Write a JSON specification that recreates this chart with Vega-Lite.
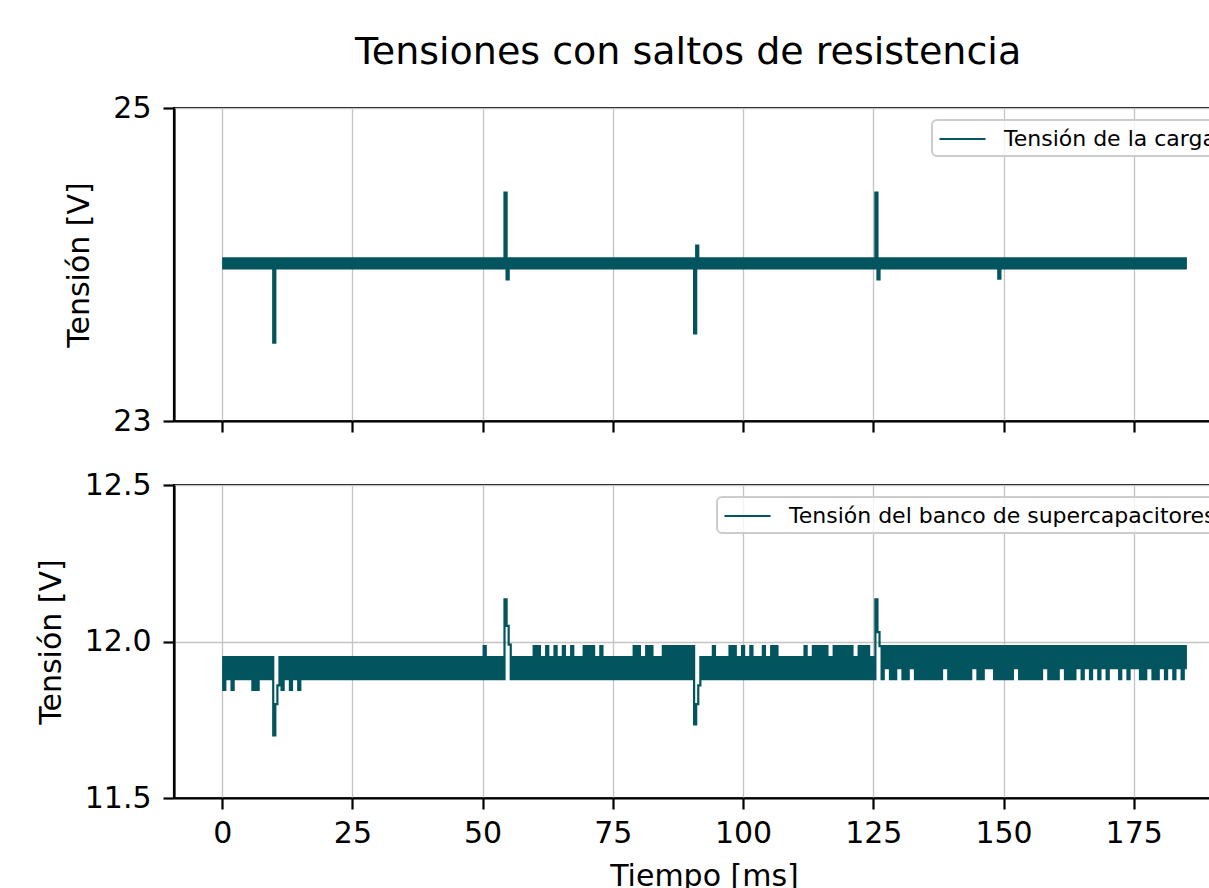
{
"$schema": "https://vega.github.io/schema/vega-lite/v6.json",
"background": "white",
"autosize": {"type": "pad"},
"padding": {"left": 35, "top": 33, "right": 0, "bottom": 0},
"title": {"text": "Tensiones con saltos de resistencia", "font": "DejaVu Sans", "fontSize": 38, "fontWeight": "normal", "color": "black", "anchor": "middle", "dx": 53, "offset": 20},
"spacing": 64,
"bounds": "flush",
"resolve": {"scale": {"color": "independent"}, "legend": {"color": "independent"}},
"config": {
  "font": "DejaVu Sans",
  "view": {"stroke": "black", "strokeWidth": 2.2},
  "axis": {"domainColor": "black", "domainWidth": 2.2, "tickColor": "black", "tickWidth": 2.2, "tickSize": 11, "labelFont": "DejaVu Sans", "labelFontSize": 30, "labelColor": "black", "labelPadding": 12, "titleFont": "DejaVu Sans", "titleFontSize": 30, "titleFontWeight": "normal", "titleColor": "black", "gridColor": "#c4c4c4", "gridWidth": 1.3},
  "legend": {"orient": "top-right", "offset": 12, "padding": 6, "strokeColor": "#cccccc", "strokeWidth": 2, "fillColor": "rgba(255,255,255,0.8)", "cornerRadius": 5, "symbolType": "M-1,0H3", "symbolSize": 529, "symbolStrokeWidth": 2.2, "labelFontSize": 22, "labelFont": "DejaVu Sans", "labelColor": "black", "labelOffset": 40, "labelLimit": 1000}
},
"datasets": {"d": [
{"t":0,"a":24.04,"b":11.95},{"t":0.4,"a":23.975,"b":11.845},{"t":0.8,"a":24.04,"b":11.95},{"t":1.2,"a":23.975,"b":11.88},{"t":1.6,"a":24.04,"b":11.95},{"t":2,"a":23.975,"b":11.845},{"t":2.4,"a":24.04,"b":11.95},{"t":2.8,"a":23.975,"b":11.88},{"t":3.2,"a":24.04,"b":11.95},{"t":3.6,"a":23.975,"b":11.88},
{"t":4,"a":24.04,"b":11.95},{"t":4.4,"a":23.975,"b":11.88},{"t":4.8,"a":24.04,"b":11.95},{"t":5.2,"a":23.975,"b":11.88},{"t":5.6,"a":24.04,"b":11.95},{"t":6,"a":23.975,"b":11.845},{"t":6.4,"a":24.04,"b":11.95},{"t":6.8,"a":23.975,"b":11.845},{"t":7.2,"a":24.04,"b":11.95},{"t":7.6,"a":23.975,"b":11.88},
{"t":8,"a":24.04,"b":11.95},{"t":8.4,"a":23.975,"b":11.88},{"t":8.8,"a":24.04,"b":11.95},{"t":9.2,"a":23.975,"b":11.88},{"t":9.6,"a":24.04,"b":11.95},{"t":10,"a":23.5,"b":11.7},{"t":10.4,"a":24.04,"b":11.8},{"t":10.8,"a":23.975,"b":11.86},{"t":11.2,"a":24.04,"b":11.95},{"t":11.6,"a":23.975,"b":11.845},
{"t":12,"a":24.04,"b":11.95},{"t":12.4,"a":23.975,"b":11.88},{"t":12.8,"a":24.04,"b":11.95},{"t":13.2,"a":23.975,"b":11.845},{"t":13.6,"a":24.04,"b":11.95},{"t":14,"a":23.975,"b":11.88},{"t":14.4,"a":24.04,"b":11.95},{"t":14.8,"a":23.975,"b":11.845},{"t":15.2,"a":24.04,"b":11.95},{"t":15.6,"a":23.975,"b":11.88},
{"t":16,"a":24.04,"b":11.95},{"t":16.4,"a":23.975,"b":11.88},{"t":16.8,"a":24.04,"b":11.95},{"t":17.2,"a":23.975,"b":11.88},{"t":17.6,"a":24.04,"b":11.95},{"t":18,"a":23.975,"b":11.88},{"t":18.4,"a":24.04,"b":11.95},{"t":18.8,"a":23.975,"b":11.88},{"t":19.2,"a":24.04,"b":11.95},{"t":19.6,"a":23.975,"b":11.88},
{"t":20,"a":24.04,"b":11.95},{"t":20.4,"a":23.975,"b":11.88},{"t":20.8,"a":24.04,"b":11.95},{"t":21.2,"a":23.975,"b":11.88},{"t":21.6,"a":24.04,"b":11.95},{"t":22,"a":23.975,"b":11.88},{"t":22.4,"a":24.04,"b":11.95},{"t":22.8,"a":23.975,"b":11.88},{"t":23.2,"a":24.04,"b":11.95},{"t":23.6,"a":23.975,"b":11.88},
{"t":24,"a":24.04,"b":11.95},{"t":24.4,"a":23.975,"b":11.88},{"t":24.8,"a":24.04,"b":11.95},{"t":25.2,"a":23.975,"b":11.88},{"t":25.6,"a":24.04,"b":11.95},{"t":26,"a":23.975,"b":11.88},{"t":26.4,"a":24.04,"b":11.95},{"t":26.8,"a":23.975,"b":11.88},{"t":27.2,"a":24.04,"b":11.95},{"t":27.6,"a":23.975,"b":11.88},
{"t":28,"a":24.04,"b":11.95},{"t":28.4,"a":23.975,"b":11.88},{"t":28.8,"a":24.04,"b":11.95},{"t":29.2,"a":23.975,"b":11.88},{"t":29.6,"a":24.04,"b":11.95},{"t":30,"a":23.975,"b":11.88},{"t":30.4,"a":24.04,"b":11.95},{"t":30.8,"a":23.975,"b":11.88},{"t":31.2,"a":24.04,"b":11.95},{"t":31.6,"a":23.975,"b":11.88},
{"t":32,"a":24.04,"b":11.95},{"t":32.4,"a":23.975,"b":11.88},{"t":32.8,"a":24.04,"b":11.95},{"t":33.2,"a":23.975,"b":11.88},{"t":33.6,"a":24.04,"b":11.95},{"t":34,"a":23.975,"b":11.88},{"t":34.4,"a":24.04,"b":11.95},{"t":34.8,"a":23.975,"b":11.88},{"t":35.2,"a":24.04,"b":11.95},{"t":35.6,"a":23.975,"b":11.88},
{"t":36,"a":24.04,"b":11.95},{"t":36.4,"a":23.975,"b":11.88},{"t":36.8,"a":24.04,"b":11.95},{"t":37.2,"a":23.975,"b":11.88},{"t":37.6,"a":24.04,"b":11.95},{"t":38,"a":23.975,"b":11.88},{"t":38.4,"a":24.04,"b":11.95},{"t":38.8,"a":23.975,"b":11.88},{"t":39.2,"a":24.04,"b":11.95},{"t":39.6,"a":23.975,"b":11.88},
{"t":40,"a":24.04,"b":11.95},{"t":40.4,"a":23.975,"b":11.88},{"t":40.8,"a":24.04,"b":11.95},{"t":41.2,"a":23.975,"b":11.88},{"t":41.6,"a":24.04,"b":11.95},{"t":42,"a":23.975,"b":11.88},{"t":42.4,"a":24.04,"b":11.95},{"t":42.8,"a":23.975,"b":11.88},{"t":43.2,"a":24.04,"b":11.95},{"t":43.6,"a":23.975,"b":11.88},
{"t":44,"a":24.04,"b":11.95},{"t":44.4,"a":23.975,"b":11.88},{"t":44.8,"a":24.04,"b":11.95},{"t":45.2,"a":23.975,"b":11.88},{"t":45.6,"a":24.04,"b":11.95},{"t":46,"a":23.975,"b":11.88},{"t":46.4,"a":24.04,"b":11.95},{"t":46.8,"a":23.975,"b":11.88},{"t":47.2,"a":24.04,"b":11.95},{"t":47.6,"a":23.975,"b":11.88},
{"t":48,"a":24.04,"b":11.95},{"t":48.4,"a":23.975,"b":11.88},{"t":48.8,"a":24.04,"b":11.95},{"t":49.2,"a":23.975,"b":11.88},{"t":49.6,"a":24.04,"b":11.95},{"t":50,"a":23.975,"b":11.88},{"t":50.4,"a":24.04,"b":11.985},{"t":50.8,"a":23.975,"b":11.88},{"t":51.2,"a":24.04,"b":11.95},{"t":51.6,"a":23.975,"b":11.88},
{"t":52,"a":24.04,"b":11.95},{"t":52.4,"a":23.975,"b":11.88},{"t":52.8,"a":24.04,"b":11.95},{"t":53.2,"a":23.975,"b":11.88},{"t":53.6,"a":24.04,"b":11.95},{"t":54,"a":23.975,"b":11.88},{"t":54.4,"a":24.46,"b":12.135},{"t":54.8,"a":23.905,"b":12.05},{"t":55.2,"a":24.04,"b":11.99},{"t":55.6,"a":23.975,"b":11.88},
{"t":56,"a":24.04,"b":11.95},{"t":56.4,"a":23.975,"b":11.88},{"t":56.8,"a":24.04,"b":11.95},{"t":57.2,"a":23.975,"b":11.88},{"t":57.6,"a":24.04,"b":11.95},{"t":58,"a":23.975,"b":11.88},{"t":58.4,"a":24.04,"b":11.95},{"t":58.8,"a":23.975,"b":11.88},{"t":59.2,"a":24.04,"b":11.95},{"t":59.6,"a":23.975,"b":11.88},
{"t":60,"a":24.04,"b":11.985},{"t":60.4,"a":23.975,"b":11.88},{"t":60.8,"a":24.04,"b":11.985},{"t":61.2,"a":23.975,"b":11.88},{"t":61.6,"a":24.04,"b":11.95},{"t":62,"a":23.975,"b":11.88},{"t":62.4,"a":24.04,"b":11.985},{"t":62.8,"a":23.975,"b":11.88},{"t":63.2,"a":24.04,"b":11.95},{"t":63.6,"a":23.975,"b":11.88},
{"t":64,"a":24.04,"b":11.985},{"t":64.4,"a":23.975,"b":11.88},{"t":64.8,"a":24.04,"b":11.95},{"t":65.2,"a":23.975,"b":11.88},{"t":65.6,"a":24.04,"b":11.985},{"t":66,"a":23.975,"b":11.88},{"t":66.4,"a":24.04,"b":11.95},{"t":66.8,"a":23.975,"b":11.88},{"t":67.2,"a":24.04,"b":11.985},{"t":67.6,"a":23.975,"b":11.88},
{"t":68,"a":24.04,"b":11.95},{"t":68.4,"a":23.975,"b":11.88},{"t":68.8,"a":24.04,"b":11.95},{"t":69.2,"a":23.975,"b":11.88},{"t":69.6,"a":24.04,"b":11.985},{"t":70,"a":23.975,"b":11.88},{"t":70.4,"a":24.04,"b":11.985},{"t":70.8,"a":23.975,"b":11.88},{"t":71.2,"a":24.04,"b":11.985},{"t":71.6,"a":23.975,"b":11.88},
{"t":72,"a":24.04,"b":11.95},{"t":72.4,"a":23.975,"b":11.88},{"t":72.8,"a":24.04,"b":11.985},{"t":73.2,"a":23.975,"b":11.88},{"t":73.6,"a":24.04,"b":11.95},{"t":74,"a":23.975,"b":11.88},{"t":74.4,"a":24.04,"b":11.95},{"t":74.8,"a":23.975,"b":11.88},{"t":75.2,"a":24.04,"b":11.95},{"t":75.6,"a":23.975,"b":11.88},
{"t":76,"a":24.04,"b":11.95},{"t":76.4,"a":23.975,"b":11.88},{"t":76.8,"a":24.04,"b":11.95},{"t":77.2,"a":23.975,"b":11.88},{"t":77.6,"a":24.04,"b":11.95},{"t":78,"a":23.975,"b":11.88},{"t":78.4,"a":24.04,"b":11.95},{"t":78.8,"a":23.975,"b":11.88},{"t":79.2,"a":24.04,"b":11.985},{"t":79.6,"a":23.975,"b":11.88},
{"t":80,"a":24.04,"b":11.985},{"t":80.4,"a":23.975,"b":11.88},{"t":80.8,"a":24.04,"b":11.95},{"t":81.2,"a":23.975,"b":11.88},{"t":81.6,"a":24.04,"b":11.985},{"t":82,"a":23.975,"b":11.88},{"t":82.4,"a":24.04,"b":11.985},{"t":82.8,"a":23.975,"b":11.88},{"t":83.2,"a":24.04,"b":11.95},{"t":83.6,"a":23.975,"b":11.88},
{"t":84,"a":24.04,"b":11.95},{"t":84.4,"a":23.975,"b":11.88},{"t":84.8,"a":24.04,"b":11.985},{"t":85.2,"a":23.975,"b":11.88},{"t":85.6,"a":24.04,"b":11.985},{"t":86,"a":23.975,"b":11.88},{"t":86.4,"a":24.04,"b":11.985},{"t":86.8,"a":23.975,"b":11.88},{"t":87.2,"a":24.04,"b":11.985},{"t":87.6,"a":23.975,"b":11.88},
{"t":88,"a":24.04,"b":11.985},{"t":88.4,"a":23.975,"b":11.88},{"t":88.8,"a":24.04,"b":11.985},{"t":89.2,"a":23.975,"b":11.88},{"t":89.6,"a":24.04,"b":11.985},{"t":90,"a":23.975,"b":11.88},{"t":90.4,"a":24.04,"b":11.985},{"t":90.8,"a":23.56,"b":11.735},{"t":91.2,"a":24.12,"b":11.8},{"t":91.6,"a":23.975,"b":11.86},
{"t":92,"a":24.04,"b":11.95},{"t":92.4,"a":23.975,"b":11.88},{"t":92.8,"a":24.04,"b":11.95},{"t":93.2,"a":23.975,"b":11.88},{"t":93.6,"a":24.04,"b":11.95},{"t":94,"a":23.975,"b":11.88},{"t":94.4,"a":24.04,"b":11.985},{"t":94.8,"a":23.975,"b":11.88},{"t":95.2,"a":24.04,"b":11.95},{"t":95.6,"a":23.975,"b":11.88},
{"t":96,"a":24.04,"b":11.95},{"t":96.4,"a":23.975,"b":11.88},{"t":96.8,"a":24.04,"b":11.95},{"t":97.2,"a":23.975,"b":11.88},{"t":97.6,"a":24.04,"b":11.985},{"t":98,"a":23.975,"b":11.88},{"t":98.4,"a":24.04,"b":11.985},{"t":98.8,"a":23.975,"b":11.88},{"t":99.2,"a":24.04,"b":11.95},{"t":99.6,"a":23.975,"b":11.88},
{"t":100,"a":24.04,"b":11.985},{"t":100.4,"a":23.975,"b":11.88},{"t":100.8,"a":24.04,"b":11.95},{"t":101.2,"a":23.975,"b":11.88},{"t":101.6,"a":24.04,"b":11.985},{"t":102,"a":23.975,"b":11.88},{"t":102.4,"a":24.04,"b":11.95},{"t":102.8,"a":23.975,"b":11.88},{"t":103.2,"a":24.04,"b":11.95},{"t":103.6,"a":23.975,"b":11.88},
{"t":104,"a":24.04,"b":11.985},{"t":104.4,"a":23.975,"b":11.88},{"t":104.8,"a":24.04,"b":11.95},{"t":105.2,"a":23.975,"b":11.88},{"t":105.6,"a":24.04,"b":11.985},{"t":106,"a":23.975,"b":11.88},{"t":106.4,"a":24.04,"b":11.985},{"t":106.8,"a":23.975,"b":11.88},{"t":107.2,"a":24.04,"b":11.95},{"t":107.6,"a":23.975,"b":11.88},
{"t":108,"a":24.04,"b":11.95},{"t":108.4,"a":23.975,"b":11.88},{"t":108.8,"a":24.04,"b":11.95},{"t":109.2,"a":23.975,"b":11.88},{"t":109.6,"a":24.04,"b":11.95},{"t":110,"a":23.975,"b":11.88},{"t":110.4,"a":24.04,"b":11.95},{"t":110.8,"a":23.975,"b":11.88},{"t":111.2,"a":24.04,"b":11.95},{"t":111.6,"a":23.975,"b":11.88},
{"t":112,"a":24.04,"b":11.985},{"t":112.4,"a":23.975,"b":11.88},{"t":112.8,"a":24.04,"b":11.95},{"t":113.2,"a":23.975,"b":11.88},{"t":113.6,"a":24.04,"b":11.985},{"t":114,"a":23.975,"b":11.88},{"t":114.4,"a":24.04,"b":11.985},{"t":114.8,"a":23.975,"b":11.88},{"t":115.2,"a":24.04,"b":11.985},{"t":115.6,"a":23.975,"b":11.88},
{"t":116,"a":24.04,"b":11.985},{"t":116.4,"a":23.975,"b":11.88},{"t":116.8,"a":24.04,"b":11.95},{"t":117.2,"a":23.975,"b":11.88},{"t":117.6,"a":24.04,"b":11.985},{"t":118,"a":23.975,"b":11.88},{"t":118.4,"a":24.04,"b":11.985},{"t":118.8,"a":23.975,"b":11.88},{"t":119.2,"a":24.04,"b":11.985},{"t":119.6,"a":23.975,"b":11.88},
{"t":120,"a":24.04,"b":11.985},{"t":120.4,"a":23.975,"b":11.88},{"t":120.8,"a":24.04,"b":11.985},{"t":121.2,"a":23.975,"b":11.88},{"t":121.6,"a":24.04,"b":11.95},{"t":122,"a":23.975,"b":11.88},{"t":122.4,"a":24.04,"b":11.985},{"t":122.8,"a":23.975,"b":11.88},{"t":123.2,"a":24.04,"b":11.985},{"t":123.6,"a":23.975,"b":11.88},
{"t":124,"a":24.04,"b":11.985},{"t":124.4,"a":23.975,"b":11.88},{"t":124.8,"a":24.04,"b":11.95},{"t":125.2,"a":23.975,"b":11.88},{"t":125.6,"a":24.46,"b":12.135},{"t":126,"a":23.905,"b":12.03},{"t":126.4,"a":24.04,"b":11.985},{"t":126.8,"a":23.975,"b":11.88},{"t":127.2,"a":24.04,"b":11.985},{"t":127.6,"a":23.975,"b":11.915},
{"t":128,"a":24.04,"b":11.985},{"t":128.4,"a":23.975,"b":11.88},{"t":128.8,"a":24.04,"b":11.985},{"t":129.2,"a":23.975,"b":11.88},{"t":129.6,"a":24.04,"b":11.985},{"t":130,"a":23.975,"b":11.915},{"t":130.4,"a":24.04,"b":11.985},{"t":130.8,"a":23.975,"b":11.88},{"t":131.2,"a":24.04,"b":11.985},{"t":131.6,"a":23.975,"b":11.88},
{"t":132,"a":24.04,"b":11.985},{"t":132.4,"a":23.975,"b":11.915},{"t":132.8,"a":24.04,"b":11.985},{"t":133.2,"a":23.975,"b":11.88},{"t":133.6,"a":24.04,"b":11.985},{"t":134,"a":23.975,"b":11.88},{"t":134.4,"a":24.04,"b":11.985},{"t":134.8,"a":23.975,"b":11.88},{"t":135.2,"a":24.04,"b":11.985},{"t":135.6,"a":23.975,"b":11.88},
{"t":136,"a":24.04,"b":11.985},{"t":136.4,"a":23.975,"b":11.88},{"t":136.8,"a":24.04,"b":11.985},{"t":137.2,"a":23.975,"b":11.88},{"t":137.6,"a":24.04,"b":11.985},{"t":138,"a":23.975,"b":11.88},{"t":138.4,"a":24.04,"b":11.985},{"t":138.8,"a":23.975,"b":11.915},{"t":139.2,"a":24.04,"b":11.985},{"t":139.6,"a":23.975,"b":11.88},
{"t":140,"a":24.04,"b":11.985},{"t":140.4,"a":23.975,"b":11.88},{"t":140.8,"a":24.04,"b":11.985},{"t":141.2,"a":23.975,"b":11.88},{"t":141.6,"a":24.04,"b":11.985},{"t":142,"a":23.975,"b":11.88},{"t":142.4,"a":24.04,"b":11.985},{"t":142.8,"a":23.975,"b":11.88},{"t":143.2,"a":24.04,"b":11.985},{"t":143.6,"a":23.975,"b":11.88},
{"t":144,"a":24.04,"b":11.985},{"t":144.4,"a":23.975,"b":11.915},{"t":144.8,"a":24.04,"b":11.985},{"t":145.2,"a":23.975,"b":11.88},{"t":145.6,"a":24.04,"b":11.985},{"t":146,"a":23.975,"b":11.88},{"t":146.4,"a":24.04,"b":11.985},{"t":146.8,"a":23.975,"b":11.915},{"t":147.2,"a":24.04,"b":11.985},{"t":147.6,"a":23.975,"b":11.915},
{"t":148,"a":24.04,"b":11.985},{"t":148.4,"a":23.975,"b":11.88},{"t":148.8,"a":24.04,"b":11.985},{"t":149.2,"a":23.91,"b":11.88},{"t":149.6,"a":24.04,"b":11.985},{"t":150,"a":23.975,"b":11.88},{"t":150.4,"a":24.04,"b":11.985},{"t":150.8,"a":23.975,"b":11.88},{"t":151.2,"a":24.04,"b":11.985},{"t":151.6,"a":23.975,"b":11.88},
{"t":152,"a":24.04,"b":11.985},{"t":152.4,"a":23.975,"b":11.915},{"t":152.8,"a":24.04,"b":11.985},{"t":153.2,"a":23.975,"b":11.88},{"t":153.6,"a":24.04,"b":11.985},{"t":154,"a":23.975,"b":11.88},{"t":154.4,"a":24.04,"b":11.985},{"t":154.8,"a":23.975,"b":11.88},{"t":155.2,"a":24.04,"b":11.985},{"t":155.6,"a":23.975,"b":11.88},
{"t":156,"a":24.04,"b":11.985},{"t":156.4,"a":23.975,"b":11.88},{"t":156.8,"a":24.04,"b":11.985},{"t":157.2,"a":23.975,"b":11.88},{"t":157.6,"a":24.04,"b":11.985},{"t":158,"a":23.975,"b":11.915},{"t":158.4,"a":24.04,"b":11.985},{"t":158.8,"a":23.975,"b":11.88},{"t":159.2,"a":24.04,"b":11.985},{"t":159.6,"a":23.975,"b":11.88},
{"t":160,"a":24.04,"b":11.985},{"t":160.4,"a":23.975,"b":11.88},{"t":160.8,"a":24.04,"b":11.985},{"t":161.2,"a":23.975,"b":11.915},{"t":161.6,"a":24.04,"b":11.985},{"t":162,"a":23.975,"b":11.88},{"t":162.4,"a":24.04,"b":11.985},{"t":162.8,"a":23.975,"b":11.88},{"t":163.2,"a":24.04,"b":11.985},{"t":163.6,"a":23.975,"b":11.88},
{"t":164,"a":24.04,"b":11.985},{"t":164.4,"a":23.975,"b":11.915},{"t":164.8,"a":24.04,"b":11.985},{"t":165.2,"a":23.975,"b":11.88},{"t":165.6,"a":24.04,"b":11.985},{"t":166,"a":23.975,"b":11.915},{"t":166.4,"a":24.04,"b":11.985},{"t":166.8,"a":23.975,"b":11.88},{"t":167.2,"a":24.04,"b":11.985},{"t":167.6,"a":23.975,"b":11.915},
{"t":168,"a":24.04,"b":11.985},{"t":168.4,"a":23.975,"b":11.88},{"t":168.8,"a":24.04,"b":11.985},{"t":169.2,"a":23.975,"b":11.915},{"t":169.6,"a":24.04,"b":11.985},{"t":170,"a":23.975,"b":11.88},{"t":170.4,"a":24.04,"b":11.985},{"t":170.8,"a":23.975,"b":11.915},{"t":171.2,"a":24.04,"b":11.985},{"t":171.6,"a":23.975,"b":11.915},
{"t":172,"a":24.04,"b":11.985},{"t":172.4,"a":23.975,"b":11.88},{"t":172.8,"a":24.04,"b":11.985},{"t":173.2,"a":23.975,"b":11.915},{"t":173.6,"a":24.04,"b":11.985},{"t":174,"a":23.975,"b":11.88},{"t":174.4,"a":24.04,"b":11.985},{"t":174.8,"a":23.975,"b":11.915},{"t":175.2,"a":24.04,"b":11.985},{"t":175.6,"a":23.975,"b":11.915},
{"t":176,"a":24.04,"b":11.985},{"t":176.4,"a":23.975,"b":11.88},{"t":176.8,"a":24.04,"b":11.985},{"t":177.2,"a":23.975,"b":11.88},{"t":177.6,"a":24.04,"b":11.985},{"t":178,"a":23.975,"b":11.915},{"t":178.4,"a":24.04,"b":11.985},{"t":178.8,"a":23.975,"b":11.88},{"t":179.2,"a":24.04,"b":11.985},{"t":179.6,"a":23.975,"b":11.88},
{"t":180,"a":24.04,"b":11.985},{"t":180.4,"a":23.975,"b":11.915},{"t":180.8,"a":24.04,"b":11.985},{"t":181.2,"a":23.975,"b":11.88},{"t":181.6,"a":24.04,"b":11.985},{"t":182,"a":23.975,"b":11.915},{"t":182.4,"a":24.04,"b":11.985},{"t":182.8,"a":23.975,"b":11.88},{"t":183.2,"a":24.04,"b":11.985},{"t":183.6,"a":23.975,"b":11.915},
{"t":184,"a":24.04,"b":11.985},{"t":184.4,"a":23.975,"b":11.88},{"t":184.8,"a":24.04,"b":11.985},{"t":185.2,"a":23.975,"b":11.915}
]},
"vconcat": [
  {
    "width": 1060, "height": 313,
    "data": {"name": "d"},
    "mark": {"type": "line", "strokeWidth": 2.2, "interpolate": "step", "clip": true},
    "encoding": {
      "x": {"field": "t", "type": "quantitative", "scale": {"domain": [-9.25, 194.25], "nice": false, "zero": false}, "axis": {"values": [0,25,50,75,100,125,150,175], "labels": false, "title": null, "grid": true}},
      "y": {"field": "a", "type": "quantitative", "scale": {"domain": [23, 25], "nice": false, "zero": false}, "axis": {"values": [23,24,25], "format": "d", "title": "Tensión [V]", "titlePadding": 18, "grid": true}},
      "color": {"datum": "Tensión de la carga", "type": "nominal", "scale": {"range": ["#02555e"]}, "legend": {"title": null}}
    }
  },
  {
    "width": 1060, "height": 313,
    "data": {"name": "d"},
    "mark": {"type": "line", "strokeWidth": 2.2, "interpolate": "step", "clip": true},
    "encoding": {
      "x": {"field": "t", "type": "quantitative", "scale": {"domain": [-9.25, 194.25], "nice": false, "zero": false}, "axis": {"values": [0,25,50,75,100,125,150,175], "title": "Tiempo [ms]", "labelPadding": 9, "titlePadding": 13, "grid": true}},
      "y": {"field": "b", "type": "quantitative", "scale": {"domain": [11.5, 12.5], "nice": false, "zero": false}, "axis": {"values": [11.5,12,12.5], "format": ".1f", "title": "Tensión [V]", "titlePadding": 18, "grid": true}},
      "color": {"datum": "Tensión del banco de supercapacitores", "type": "nominal", "scale": {"range": ["#02555e"]}, "legend": {"title": null}}
    }
  }
]
}
